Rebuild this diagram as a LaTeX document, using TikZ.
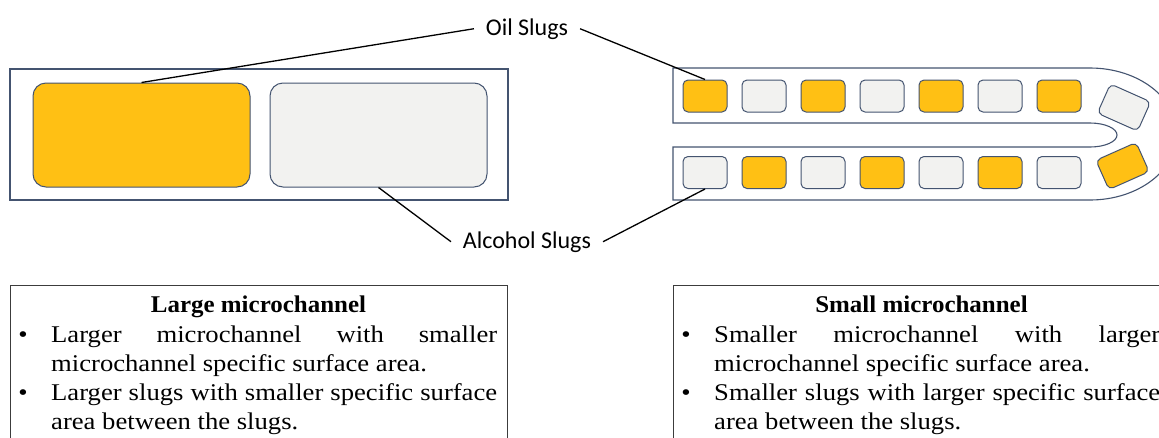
\documentclass[tikz,border=0pt]{standalone}
\usepackage{fontspec}
\newfontfamily\labelfont{Carlito}
\newfontfamily\palfont{Liberation Serif}[FakeStretch=1.11]
\newfontfamily\titlefont{Liberation Serif}[FakeStretch=1.04]
\definecolor{oilc}{RGB}{255,192,20}
\definecolor{alcc}{RGB}{242,242,240}
\definecolor{edgec}{RGB}{68,84,112}
\definecolor{boxc}{RGB}{60,60,60}
\begin{document}
\begin{tikzpicture}[x=1pt,y=-1pt,
  slug/.style={draw=edgec, line width=1pt, rounded corners=5pt, minimum width=44pt, minimum height=32pt, inner sep=0pt},
  oil/.style={slug, fill=oilc},
  alc/.style={slug, fill=alcc},
  bigslug/.style={draw=edgec, line width=1pt, rounded corners=13pt, minimum width=217pt, minimum height=104pt, inner sep=0pt},
  chan/.style={draw=edgec, line width=1.1pt, fill=white},
  lbl/.style={font=\labelfont\fontsize{24}{28}\selectfont, inner sep=0pt, outer sep=12pt, anchor=base},
  lead/.style={draw=black, line width=1.3pt},
  infobox/.style={draw=boxc, line width=0.8pt},
  titletext/.style={font=\titlefont\bfseries\fontsize{24}{29}\selectfont, inner sep=0pt, anchor=base},
  bullettext/.style={font=\palfont\fontsize{24}{29}\selectfont, inner sep=0pt, anchor=base},
  bodytext/.style={font=\palfont\fontsize{24}{29}\selectfont, text width=446pt, align=justify, inner sep=0pt, anchor=base west},
]
\useasboundingbox (0,0) rectangle (1159,437);

% left channel
\draw[chan] (10,69) rectangle (508,200);
\node[bigslug, fill=oilc] (oilL) at (141.5,135) {};
\node[bigslug, fill=alcc] (alcL) at (378.5,135) {};

% right U-shaped channel
\draw[chan] (1090,68) -- (673,68) -- (673,123) -- (1090,123)
  arc[start angle=-90, end angle=90, x radius=27, y radius=12]
  -- (673,147) -- (673,200) -- (1090,200)
  arc[start angle=90, end angle=-90, x radius=87, y radius=66] -- cycle;

\node[oil] (u1) at (705,96) {};
\node[alc] (u2) at (764,96) {};
\node[oil] (u3) at (823,96) {};
\node[alc] (u4) at (882,96) {};
\node[oil] (u5) at (941,96) {};
\node[alc] (u6) at (1000,96) {};
\node[oil] (u7) at (1059,96) {};
\node[alc, rotate=-24] (ut) at (1124,107.5) {};
\node[oil, rotate=24] (lt) at (1122.5,166) {};
\node[alc] (l1) at (705,172.5) {};
\node[oil] (l2) at (764,172.5) {};
\node[alc] (l3) at (823,172.5) {};
\node[oil] (l4) at (882,172.5) {};
\node[alc] (l5) at (941,172.5) {};
\node[oil] (l6) at (1000,172.5) {};
\node[alc] (l7) at (1059,172.5) {};

% labels and leaders
\node[lbl] (oilLbl) at (527,35) {Oil Slugs};
\node[lbl] (alcLbl) at (527,248) {Alcohol Slugs};
\draw[lead] (oilLbl.west) -- (oilL.north);
\draw[lead] (oilLbl.east) -- (u1.north);
\draw[lead] (alcLbl.west) -- (alcL.south);
\draw[lead] (alcLbl.east) -- (l1.south);

% left text box
\draw[infobox] (10,285) rectangle (507,470);
\node[titletext] (lt1) at (258.5,312) {Large microchannel};
\node[bullettext] (lb1) at (23,342) {•};
\node[bodytext] (lx1) at (51,342) {Larger microchannel with smaller\linebreak microchannel specific surface area.};
\node[bullettext] (lb2) at (23,400) {•};
\node[bodytext] (lx2) at (51,400) {Larger slugs with smaller specific surface\linebreak area between the slugs.};

% right text box
\draw[infobox] (673,285) rectangle (1175,470);
\node[titletext] (rt1) at (921.5,312) {Small microchannel};
\node[bullettext] (rb1) at (686,342) {•};
\node[bodytext] (rx1) at (714,342) {Smaller microchannel with larger\linebreak microchannel specific surface area.};
\node[bullettext] (rb2) at (686,400) {•};
\node[bodytext] (rx2) at (714,400) {Smaller slugs with larger specific surface\linebreak area between the slugs.};
\end{tikzpicture}
\end{document}
